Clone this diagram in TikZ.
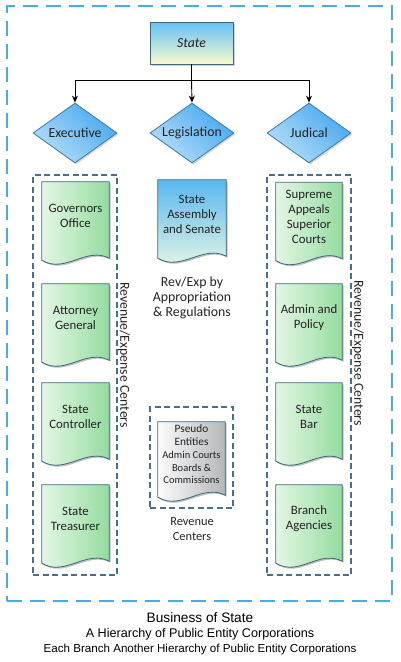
\documentclass[tikz,border=0pt]{standalone}
\usepackage{fontspec}
\setmainfont{Carlito}
\newfontfamily\arialfont{Liberation Sans}
\usetikzlibrary{shapes.geometric,arrows.meta,calc,backgrounds,shadows}
\definecolor{outerdash}{RGB}{75,172,228}
\definecolor{innerdash}{RGB}{72,112,140}
\definecolor{docline}{RGB}{60,105,125}
\definecolor{greenL}{RGB}{228,246,228}
\definecolor{greenR}{RGB}{148,220,160}
\definecolor{blueT}{RGB}{88,184,240}
\definecolor{blueB}{RGB}{236,248,226}
\definecolor{greyL}{RGB}{252,252,252}
\definecolor{greyR}{RGB}{180,182,184}
\definecolor{diaD}{RGB}{72,168,240}
\definecolor{diaL}{RGB}{180,222,248}
\definecolor{dialine}{RGB}{62,120,168}
\definecolor{stateT}{RGB}{100,192,246}
\definecolor{stateB}{RGB}{250,250,205}
\definecolor{txt}{RGB}{35,35,35}
\newcommand{\docshape}[2]{%
  \path[fill=black!25,transform canvas={xshift=1.5pt,yshift=-1.5pt}] (#1.north west) -- (#1.north east) -- ($(#1.south east)+(0,8)$) .. controls +(-23,-12) and +(23,14) .. ($(#1.south west)+(0,10)$) -- cycle;
  \path[#2] (#1.north west) -- (#1.north east) -- ($(#1.south east)+(0,8)$) .. controls +(-23,-12) and +(23,14) .. ($(#1.south west)+(0,10)$) -- cycle;}
\tikzset{
  docnode/.style={inner sep=0pt, minimum width=67pt, minimum height=68pt, align=center, text=txt, font=\fontsize{12.8}{15}\selectfont},
  greendoc/.style={draw=docline, line width=0.8pt, left color=greenL, right color=greenR},
  bluedoc/.style={draw=docline, line width=0.8pt, top color=blueT, bottom color=blueB},
  greydoc/.style={draw=docline, line width=0.8pt, left color=greyL, right color=greyR},
  dia/.style={diamond, aspect=1.4, minimum width=84pt, minimum height=60pt, inner sep=0pt, draw=dialine, line width=0.8pt, shading=axis, top color=diaD, bottom color=diaL, shading angle=-45, text=txt, font=\fontsize{13.8}{15}\selectfont, drop shadow={shadow xshift=1.5pt, shadow yshift=-1.5pt, opacity=0.3}},
  dbox/.style={draw=innerdash, line width=1.2pt, dash pattern=on 6pt off 3.5pt, inner sep=0pt},
  obox/.style={draw=outerdash, line width=1.5pt, dash pattern=on 15pt off 8pt, inner sep=0pt},
  conn/.style={draw=black, line width=0.9pt},
  arr/.style={conn, -{Stealth[length=7pt,width=6pt]}},
  lbl/.style={align=center, text=txt, font=\fontsize{13.8}{15}\selectfont},
  bot/.style={align=center, text=black}
}
\begin{document}
\begin{tikzpicture}[x=1pt,y=-1pt]
\useasboundingbox (0,0) rectangle (400,662);
% outer box
\node[obox, minimum width=385pt, minimum height=595pt] (outer) at (199.5,303.5) {};
% state
\node[draw=docline, line width=0.8pt, top color=stateT, bottom color=stateB, minimum width=83pt, minimum height=42pt, inner sep=0pt, text=txt, font=\fontsize{13.8}{15}\selectfont\itshape, drop shadow={shadow xshift=2pt, shadow yshift=-2pt, opacity=0.35}] (state) at (191.5,43) {State};
% diamonds
\node[dia] (exe) at (75,133) {Executive};
\node[dia] (leg) at (192,133) {Legislation};
\node[dia] (jud) at (309,133) {Judical};
% connectors
\draw[conn] (state.south) -- (191.5,80) coordinate (hub);
\draw[arr] (hub) -| (exe.north);
\draw[arr] (hub) -- (leg.north);
\draw[arr] (hub) -| (jud.north);
% dashed boxes
\node[dbox, minimum width=84pt, minimum height=400pt] (leftbox) at (75,375) {};
\node[dbox, minimum width=84pt, minimum height=400pt] (rightbox) at (309,375) {};
\node[dbox, minimum width=83pt, minimum height=101pt] (pbox) at (191.5,457.5) {};
% left docs
\node[docnode] (gov) at (75.5,216) {Governors\\Office};
\node[docnode] (att) at (75.5,318) {Attorney\\General};
\node[docnode] (ctl) at (75.5,417) {State\\Controller};
\node[docnode] (tre) at (75.5,519) {State\\Treasurer};
% right docs
\node[docnode, minimum width=66pt] (sup) at (309,216.5) {Supreme\\Appeals\\Superior\\Courts};
\node[docnode, minimum width=66pt] (adm) at (309,318) {Admin and\\Policy};
\node[docnode, minimum width=66pt] (bar) at (309,417) {State\\Bar};
\node[docnode, minimum width=66pt] (bra) at (309,519) {Branch\\Agencies};
% middle
\node[docnode, minimum width=68pt] (asm) at (192,214) {State\\Assembly\\and Senate};
\node[docnode, minimum height=65pt, font=\fontsize{11.3}{15}\selectfont] (pse) at (191.5,454.5) {Pseudo\\[-2pt]Entities\\[-2pt]{\fontsize{10.5}{12.5}\selectfont Admin Courts}\\[-2.5pt]{\fontsize{10.5}{12.5}\selectfont Boards \&}\\[-2.5pt]{\fontsize{10.5}{12.5}\selectfont Commissions}};
\begin{scope}[on background layer]
\foreach \n in {gov,att,ctl,tre,sup,adm,bar,bra} {\docshape{\n}{greendoc}}
\docshape{asm}{bluedoc}
\docshape{pse}{greydoc}
\end{scope}
% labels
\node[lbl] (revexp) at (192,298) {Rev/Exp by\\Appropriation\\\& Regulations};
\node[lbl, font=\fontsize{12.4}{15}\selectfont] (revc) at (192,529.5) {Revenue\\Centers};
\node[lbl, rotate=-90] (revL) at (124,355) {Revenue/Expense Centers};
\node[lbl, rotate=-90] (revR) at (358,353) {Revenue/Expense Centers};
% bottom
\node[bot, font=\arialfont\fontsize{13.7}{15}\selectfont] (t1) at (200,618) {Business of State};
\node[bot, font=\arialfont\fontsize{12.6}{14}\selectfont] (t2) at (200,634) {A Hierarchy of Public Entity Corporations};
\node[bot, font=\arialfont\fontsize{11.6}{13}\selectfont] (t3) at (200,649) {Each Branch Another Hierarchy of Public Entity Corporations};
\end{tikzpicture}
\end{document}
